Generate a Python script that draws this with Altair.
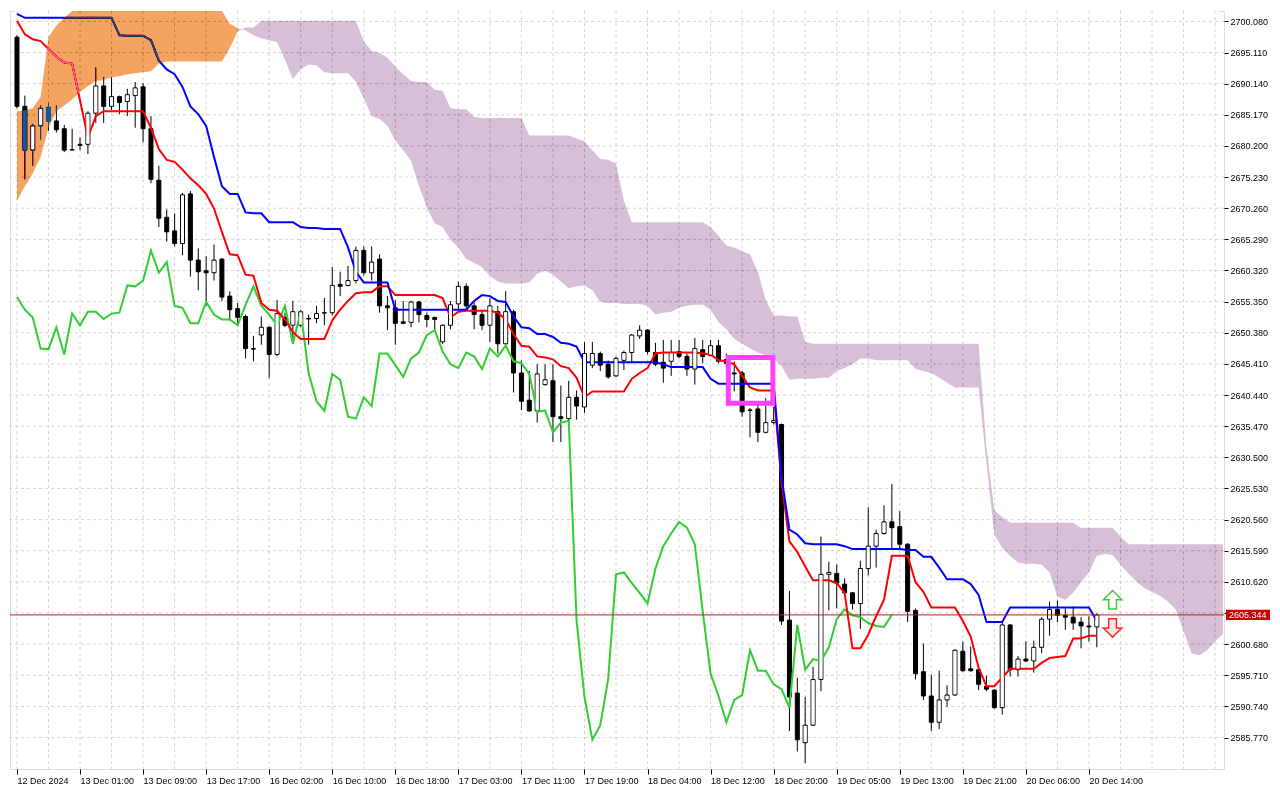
import json
import altair as alt
import pandas as pd

# ---------------- data (XAUUSD H1, Ichimoku) ----------------
opens = [
    2697.55, 2686.52, 2679.53, 2683.41, 2686.36, 2684.19, 2682.95, 2679.61, 2680.46, 2680.46,
    2685.43, 2689.78, 2686.52, 2688.07, 2687.30, 2688.23, 2689.63, 2682.95, 2674.72, 2668.81,
    2666.64, 2664.62, 2672.54, 2661.98, 2660.27, 2659.96, 2662.14, 2656.23, 2654.22, 2652.97,
    2647.85, 2650.02, 2651.26, 2646.92, 2652.82, 2651.58, 2651.58, 2652.66, 2652.66, 2653.52,
    2653.59, 2658.10, 2657.94, 2658.72, 2663.53, 2659.96, 2662.14, 2654.68, 2654.37, 2652.12,
    2652.04, 2655.30, 2653.13, 2652.82, 2648.93, 2651.58, 2654.99, 2657.79, 2654.68, 2653.28,
    2651.58, 2653.75, 2648.62, 2653.75, 2643.96, 2639.62, 2637.91, 2642.10, 2642.72, 2636.98,
    2636.67, 2640.08, 2638.53, 2645.21, 2647.07, 2645.36, 2643.50, 2645.98, 2647.23, 2649.87,
    2650.80, 2647.23, 2645.67, 2645.83, 2647.38, 2646.61, 2644.59, 2647.69, 2646.76, 2648.31,
    2646.14, 2643.96, 2643.96, 2638.06, 2638.22, 2634.49, 2636.04, 2635.73, 2604.52, 2592.87,
    2584.95, 2587.74, 2595.04, 2611.82, 2611.97, 2610.26, 2608.87, 2607.16, 2612.75, 2616.32,
    2618.34, 2620.20, 2619.43, 2616.63, 2606.07, 2596.28, 2592.40, 2588.21, 2591.78, 2592.56,
    2599.55, 2596.75, 2596.60, 2593.96, 2593.33, 2590.54, 2603.74, 2596.60, 2598.30, 2597.99,
    2600.17, 2604.67, 2606.22, 2605.29, 2604.98, 2604.20, 2603.58, 2603.43,
]
highs = [
    2697.86, 2688.23, 2683.72, 2686.67, 2686.99, 2686.67, 2683.57, 2682.95, 2681.55, 2685.74,
    2692.73, 2691.18, 2691.18, 2688.23, 2689.32, 2690.40, 2690.25, 2684.97, 2677.05, 2670.06,
    2669.44, 2672.70, 2673.01, 2663.84, 2662.60, 2664.47, 2662.29, 2657.01, 2655.15, 2653.28,
    2649.87, 2652.97, 2651.42, 2655.61, 2653.59, 2655.46, 2654.06, 2653.28, 2654.68, 2655.92,
    2660.89, 2660.12, 2661.05, 2664.16, 2664.16, 2664.16, 2662.91, 2656.23, 2655.61, 2655.46,
    2655.46, 2655.46, 2653.59, 2652.97, 2651.73, 2655.46, 2658.56, 2658.25, 2655.46, 2653.90,
    2655.92, 2654.68, 2657.01, 2654.06, 2645.98, 2644.28, 2645.36, 2645.36, 2645.36, 2641.95,
    2642.72, 2641.17, 2648.93, 2648.93, 2647.38, 2645.98, 2646.61, 2647.54, 2650.18, 2651.58,
    2650.95, 2648.78, 2649.25, 2649.25, 2649.25, 2647.07, 2649.56, 2649.25, 2649.25, 2649.25,
    2647.07, 2645.83, 2644.28, 2638.37, 2639.46, 2639.93, 2638.53, 2635.89, 2609.18, 2595.35,
    2592.25, 2597.06, 2617.87, 2613.84, 2613.37, 2611.19, 2609.02, 2613.99, 2622.53, 2618.96,
    2622.84, 2626.26, 2621.91, 2616.79, 2606.38, 2600.79, 2595.82, 2596.44, 2594.11, 2599.86,
    2601.10, 2600.32, 2597.37, 2595.66, 2593.49, 2604.05, 2603.90, 2598.77, 2601.10, 2601.25,
    2604.98, 2607.47, 2607.62, 2606.38, 2606.69, 2604.98, 2605.14, 2605.60,
]
lows = [
    2686.21, 2674.87, 2677.05, 2681.24, 2682.64, 2682.33, 2679.22, 2679.45, 2679.53, 2678.91,
    2683.88, 2683.88, 2685.90, 2685.28, 2684.97, 2683.10, 2680.77, 2674.25, 2667.26, 2664.93,
    2664.16, 2662.76, 2659.34, 2657.17, 2654.68, 2658.72, 2655.46, 2652.35, 2651.58, 2646.29,
    2645.83, 2648.47, 2643.19, 2646.61, 2651.26, 2648.93, 2651.26, 2648.47, 2651.89, 2651.58,
    2653.13, 2656.23, 2657.79, 2658.25, 2659.50, 2658.72, 2653.59, 2650.80, 2648.47, 2651.73,
    2651.26, 2652.04, 2651.26, 2650.95, 2648.62, 2650.95, 2654.06, 2654.06, 2650.95, 2650.80,
    2648.93, 2647.07, 2648.16, 2640.86, 2638.06, 2637.75, 2636.04, 2641.95, 2632.94, 2632.94,
    2636.04, 2636.51, 2637.60, 2644.74, 2644.28, 2643.03, 2643.34, 2644.43, 2645.52, 2649.40,
    2646.92, 2645.05, 2642.41, 2643.50, 2646.29, 2643.50, 2642.10, 2645.52, 2646.61, 2645.52,
    2644.90, 2641.01, 2636.98, 2633.71, 2632.94, 2634.34, 2635.73, 2603.74, 2586.81, 2583.55,
    2581.69, 2587.59, 2593.18, 2606.07, 2606.38, 2608.24, 2606.22, 2603.12, 2611.66, 2612.90,
    2618.18, 2615.85, 2615.85, 2604.20, 2595.04, 2591.78, 2586.81, 2587.12, 2590.69, 2592.40,
    2596.28, 2596.28, 2593.33, 2593.18, 2590.38, 2589.45, 2595.51, 2595.51, 2597.84, 2596.13,
    2599.24, 2602.03, 2604.20, 2602.96, 2602.96, 2600.01, 2601.10, 2600.17,
]
closes = [
    2686.52, 2679.53, 2683.41, 2686.21, 2684.19, 2682.79, 2679.53, 2679.56, 2680.31, 2685.43,
    2689.78, 2686.52, 2688.07, 2687.14, 2688.38, 2689.47, 2682.95, 2674.87, 2668.66, 2666.49,
    2664.62, 2672.39, 2661.98, 2660.12, 2659.96, 2661.98, 2656.08, 2654.06, 2652.82, 2647.85,
    2647.77, 2651.26, 2646.92, 2653.44, 2651.58, 2653.75, 2653.75, 2652.58, 2653.44, 2653.59,
    2657.94, 2657.79, 2658.72, 2663.53, 2659.96, 2661.67, 2654.68, 2654.37, 2651.89, 2651.89,
    2655.30, 2653.28, 2652.51, 2652.51, 2651.58, 2654.84, 2657.79, 2654.68, 2653.28, 2651.58,
    2654.68, 2648.62, 2653.75, 2643.96, 2639.46, 2637.91, 2643.81, 2642.88, 2636.98, 2636.67,
    2640.08, 2638.68, 2647.07, 2647.07, 2645.21, 2643.34, 2646.29, 2647.23, 2650.02, 2650.80,
    2647.38, 2645.36, 2644.74, 2647.23, 2646.61, 2644.59, 2647.85, 2646.61, 2648.31, 2645.83,
    2645.52, 2643.81, 2637.75, 2637.99, 2634.49, 2636.04, 2636.35, 2604.36, 2592.25, 2585.41,
    2587.74, 2595.04, 2611.82, 2612.13, 2610.42, 2608.87, 2607.16, 2612.75, 2616.32, 2618.34,
    2620.20, 2619.27, 2616.63, 2605.91, 2595.97, 2592.40, 2588.21, 2591.78, 2592.56, 2599.70,
    2596.44, 2596.44, 2594.27, 2593.49, 2590.54, 2603.74, 2596.60, 2598.30, 2597.99, 2600.17,
    2604.67, 2606.22, 2605.29, 2604.98, 2604.05, 2603.58, 2603.43, 2605.344,
]
tenkan = [
    2700.19, 2698.01, 2697.24, 2696.93, 2695.68, 2694.44, 2693.51, 2693.35, 2687.45, 2681.55,
    2684.97, 2685.74, 2685.74, 2685.74, 2685.74, 2685.74, 2685.74, 2683.10, 2679.69, 2677.98,
    2677.67, 2676.42, 2675.03, 2673.94, 2672.54, 2670.21, 2666.49, 2662.91, 2662.76, 2659.65,
    2659.50, 2655.15, 2654.06, 2653.90, 2652.51, 2650.49, 2649.40, 2649.40, 2649.40, 2649.40,
    2652.35, 2654.06, 2655.46, 2656.70, 2656.86, 2656.86, 2657.79, 2657.79, 2656.39, 2656.39,
    2656.39, 2656.39, 2656.39, 2656.39, 2655.92, 2652.82, 2653.75, 2653.90, 2653.90, 2653.90,
    2653.90, 2653.59, 2652.51, 2650.18, 2648.31, 2648.16, 2646.61, 2646.45, 2646.14, 2645.05,
    2644.74, 2643.19, 2640.08, 2641.01, 2641.01, 2641.01, 2641.01, 2641.01, 2643.03, 2643.96,
    2644.74, 2647.07, 2647.23, 2647.23, 2647.23, 2647.23, 2647.23, 2647.07, 2646.92, 2645.98,
    2645.83, 2645.36, 2643.50, 2641.64, 2641.17, 2641.17, 2641.17, 2626.57, 2617.10, 2615.39,
    2613.06, 2610.88, 2610.88, 2610.88, 2610.42, 2608.87, 2600.01, 2600.01, 2602.19, 2605.14,
    2607.78, 2614.77, 2614.77, 2614.77, 2610.57, 2609.02, 2606.54, 2606.54, 2606.54, 2606.54,
    2604.36, 2601.88, 2596.91, 2593.96, 2593.96, 2595.35, 2596.75, 2596.75, 2596.75, 2596.75,
    2597.68, 2598.46, 2598.61, 2598.77, 2601.57, 2601.57, 2602.03, 2602.03,
]
kijun = [
    2701.27, 2700.65, 2700.65, 2700.65, 2700.65, 2700.65, 2700.65, 2700.65, 2700.65, 2700.65,
    2700.65, 2700.65, 2700.65, 2697.86, 2697.78, 2697.78, 2697.78, 2697.08, 2693.82, 2692.42,
    2691.65, 2689.63, 2686.52, 2685.28, 2683.41, 2678.44, 2673.78, 2672.54, 2672.54, 2669.59,
    2669.44, 2669.44, 2668.04, 2668.04, 2668.04, 2668.04, 2667.26, 2667.11, 2667.11, 2666.95,
    2666.95, 2666.95, 2664.00, 2660.12, 2658.41, 2658.41, 2658.41, 2658.41, 2654.06, 2654.06,
    2654.06, 2654.06, 2654.06, 2654.06, 2654.06, 2654.06, 2654.06, 2654.06, 2655.46, 2656.39,
    2656.23, 2655.46, 2655.30, 2652.97, 2651.26, 2651.11, 2650.18, 2650.18, 2649.71, 2648.78,
    2648.62, 2648.16, 2645.67, 2645.67, 2645.67, 2645.67, 2645.67, 2645.67, 2645.67, 2645.67,
    2645.67, 2645.67, 2645.36, 2644.90, 2644.90, 2644.90, 2644.90, 2644.90, 2643.03, 2642.26,
    2642.26, 2642.26, 2642.26, 2642.26, 2642.26, 2642.26, 2642.26, 2627.35, 2618.96, 2618.18,
    2616.79, 2616.63, 2616.63, 2616.63, 2616.63, 2616.32, 2615.85, 2615.85, 2615.85, 2615.85,
    2615.85, 2615.85, 2615.85, 2615.70, 2615.70, 2614.61, 2614.61, 2612.90, 2611.04, 2611.04,
    2611.04, 2610.26, 2608.55, 2604.20, 2604.20, 2604.20, 2606.54, 2606.54, 2606.54, 2606.54,
    2606.54, 2606.54, 2606.54, 2606.54, 2606.54, 2606.54, 2606.54, 2604.36,
]
senkou_a = [
    2685.74, 2685.90, 2686.21, 2688.07, 2697.55, 2699.41, 2700.65, 2701.74, 2701.74, 2701.74,
    2701.74, 2701.74, 2701.74, 2701.74, 2701.74, 2701.74, 2701.74, 2701.74, 2701.74, 2701.74,
    2701.74, 2701.74, 2701.74, 2701.74, 2701.74, 2701.74, 2701.74, 2699.72, 2699.02, 2698.63,
    2697.86, 2697.39, 2697.08, 2696.77, 2693.97, 2690.87, 2692.42, 2693.20, 2693.04, 2691.96,
    2691.80, 2691.80, 2691.80, 2690.40, 2687.76, 2684.97, 2684.50, 2683.41, 2681.08, 2679.53,
    2677.82, 2673.78, 2670.37, 2667.88, 2667.26, 2665.24, 2664.00, 2662.14, 2661.52, 2660.89,
    2659.50, 2658.56, 2658.25, 2658.25, 2658.25, 2658.41, 2659.81, 2660.27, 2659.65, 2658.56,
    2657.48, 2657.79, 2657.94, 2657.17, 2655.30, 2655.15, 2655.15, 2654.99, 2654.99, 2654.99,
    2654.68, 2653.28, 2653.59, 2653.75, 2654.37, 2654.68, 2654.84, 2654.84, 2654.06, 2652.04,
    2650.95, 2649.40, 2648.62, 2647.85, 2647.23, 2646.76, 2646.29, 2645.05, 2642.88, 2643.03,
    2643.03, 2643.03, 2643.19, 2643.19, 2644.28, 2644.74, 2645.36, 2646.29, 2646.29, 2645.98,
    2645.98, 2645.98, 2645.98, 2645.98, 2644.59, 2644.28, 2643.96, 2643.19, 2642.41, 2641.64,
    2641.64, 2641.64, 2641.64, 2629.52, 2618.18, 2616.01, 2614.77, 2613.68, 2613.52, 2613.52,
    2613.37, 2612.13, 2608.24, 2607.78, 2608.87, 2610.57, 2612.13, 2614.77, 2615.08, 2614.92,
    2613.37, 2611.97, 2610.73, 2609.64, 2609.02, 2608.40, 2607.47, 2606.22, 2602.81, 2599.24,
    2598.92, 2599.70, 2601.10, 2602.34,
]
senkou_b = [
    2671.46, 2673.78, 2675.80, 2678.44, 2683.10, 2685.74, 2686.67, 2687.61, 2688.85, 2689.78,
    2690.56, 2690.71, 2691.18, 2691.33, 2691.65, 2691.80, 2691.96, 2692.11, 2693.35, 2693.66,
    2693.66, 2693.66, 2693.66, 2693.66, 2693.66, 2693.66, 2693.66, 2695.84, 2698.48, 2699.10,
    2699.10, 2700.19, 2700.19, 2700.19, 2700.19, 2700.19, 2700.19, 2700.19, 2700.19, 2700.19,
    2700.19, 2700.19, 2700.19, 2700.19, 2696.93, 2695.37, 2695.06, 2694.29, 2692.89, 2691.65,
    2690.56, 2690.40, 2690.40, 2689.16, 2689.00, 2686.21, 2686.05, 2686.05, 2684.81, 2684.66,
    2684.66, 2684.66, 2684.66, 2684.66, 2684.66, 2681.86, 2681.86, 2681.86, 2681.86, 2681.86,
    2681.86, 2681.39, 2680.93, 2679.53, 2678.13, 2677.98, 2677.36, 2671.46, 2668.04, 2668.04,
    2668.04, 2668.04, 2668.04, 2668.04, 2668.04, 2668.04, 2668.04, 2668.04, 2667.26, 2665.86,
    2664.31, 2664.00, 2663.38, 2662.91, 2660.12, 2655.61, 2653.13, 2653.13, 2652.97, 2652.97,
    2648.93, 2648.62, 2648.62, 2648.62, 2648.62, 2648.62, 2648.62, 2648.62, 2648.62, 2648.62,
    2648.62, 2648.62, 2648.62, 2648.62, 2648.62, 2648.62, 2648.62, 2648.62, 2648.62, 2648.62,
    2648.62, 2648.62, 2648.62, 2632.16, 2622.07, 2620.98, 2620.05, 2620.05, 2620.05, 2620.05,
    2620.05, 2620.05, 2620.05, 2620.05, 2620.05, 2619.27, 2619.27, 2619.27, 2619.27, 2619.27,
    2617.87, 2616.63, 2616.63, 2616.63, 2616.63, 2616.63, 2616.63, 2616.63, 2616.63, 2616.63,
    2616.63, 2616.63, 2616.63, 2616.63,
]
time_labels = [
    "12 Dec 2024", "13 Dec 01:00", "13 Dec 09:00", "13 Dec 17:00", "16 Dec 02:00",
    "16 Dec 10:00", "16 Dec 18:00", "17 Dec 03:00", "17 Dec 11:00", "17 Dec 19:00",
    "18 Dec 04:00", "18 Dec 12:00", "18 Dec 20:00", "19 Dec 05:00", "19 Dec 13:00",
    "19 Dec 21:00", "20 Dec 06:00", "20 Dec 14:00",
]
label_bars = [0, 8, 16, 24, 32, 40, 48, 56, 64, 72, 80, 88, 96, 104, 112, 120, 128, 136]
grid_bars = [0, 4, 8, 12, 16, 20, 24, 28, 32, 36, 40, 44, 48, 52, 56, 60, 64, 68, 72, 76,
             80, 84, 88, 92, 96, 100, 104, 108, 112, 116, 120, 124, 128, 132, 136, 140, 144,
             148, 152]
price_ticks = [
    2700.08, 2695.11, 2690.14, 2685.17, 2680.20, 2675.23, 2670.26, 2665.29, 2660.32,
    2655.35, 2650.38, 2645.41, 2640.44, 2635.47, 2630.50, 2625.53, 2620.56, 2615.59,
    2610.62, 2605.65, 2600.68, 2595.71, 2590.74, 2585.77,
]
current_price = 2605.344
box_bars = [90.25, 95.9]
box_prices = [2646.45, 2639.15]
arrow_bars = [139, 139]
arrow_prices = [2607.78, 2603.27]

# ---------------- layout ----------------
W, H = 1214, 758
XDOM = [-0.25, 152.5]
YDOM = [2580.75, 2701.74]
FONT = "Liberation Sans"
GRID = "#d4d4d4"

xs = alt.Scale(domain=XDOM, nice=False, zero=False)
ys = alt.Scale(domain=YDOM, nice=False, zero=False)

x_axis = alt.Axis(
    values=label_bars,
    labelExpr=json.dumps(time_labels) + "[round(datum.value / 8)]",
    grid=False, domain=False, ticks=True, tickColor="black", tickSize=5, tickWidth=1,
    labelAlign="left", labelBaseline="top", labelFont=FONT, labelFontSize=9,
    labelColor="black", labelPadding=2, labelOverlap=False, labelFlush=False, title=None,
)
y_axis = alt.Axis(
    orient="right", values=price_ticks,
    labelExpr="abs(datum.value - 2605.65) < 0.001 ? '' : format(datum.value, '.3f')",
    grid=False, domain=False,
    tickColor="black", tickSize=4, tickWidth=1, labelFont=FONT, labelFontSize=9,
    labelColor="black", labelPadding=2, labelOverlap=False, labelFlush=False, title=None,
)


def X(f):
    return alt.X(f, type="quantitative", scale=xs, axis=x_axis)


def Y(f):
    return alt.Y(f, type="quantitative", scale=ys, axis=y_axis)


n = len(closes)
cdf = pd.DataFrame({"k": list(range(n)), "o": opens, "h": highs, "l": lows, "c": closes})
bull = cdf[cdf.c >= cdf.o]
bear = cdf[cdf.c < cdf.o]
bull_inner = bull[(bull.c - bull.o) > 0.5]

ten_df = pd.DataFrame({"k": list(range(len(tenkan))), "v": tenkan})
kij_df = pd.DataFrame({"k": list(range(len(kijun))), "v": kijun})
# Chikou span = close plotted 26 bars back
chikou = closes[26:]
chi_df = pd.DataFrame({"k": list(range(len(chikou))), "v": chikou})
cloud = pd.DataFrame({"k": list(range(len(senkou_a))), "a": senkou_a, "b": senkou_b})
cloud_up = cloud[cloud.k <= 28]
cloud_dn = cloud[cloud.k >= 28]

# white plot backdrop (so the cloud's difference blending has something to blend with)
backdrop = alt.Chart(pd.DataFrame({"k1": [XDOM[0]], "k2": [XDOM[1]],
                                   "p1": [YDOM[0]], "p2": [YDOM[1]]})).mark_rect(
    color="white", opacity=1).encode(x=X("k1"), x2="k2", y=Y("p1"), y2="p2")

vgrid = alt.Chart(pd.DataFrame({"k": grid_bars})).mark_rule(
    color=GRID, strokeDash=[3, 3], strokeWidth=1).encode(x=X("k"))
hgrid = alt.Chart(pd.DataFrame({"p": price_ticks})).mark_rule(
    color=GRID, strokeDash=[3, 3], strokeWidth=1).encode(y=Y("p"))

wicks = alt.Chart(cdf).mark_rule(color="black", strokeWidth=1).encode(
    x=X("k"), y=Y("l"), y2="h")
bear_b = alt.Chart(bear).mark_bar(width=4, fill="black", stroke="black", strokeWidth=1).encode(
    x=X("k"), y=Y("o"), y2="c")
bull_b = alt.Chart(bull).mark_bar(width=4, fill="white", stroke="black", strokeWidth=1).encode(
    x=X("k"), y=Y("c"), y2="o")

l_ten = alt.Chart(ten_df).mark_line(color="#ff0000", strokeWidth=2).encode(x=X("k"), y=Y("v"))
l_kij = alt.Chart(kij_df).mark_line(color="#0000ff", strokeWidth=2).encode(x=X("k"), y=Y("v"))
l_chi = alt.Chart(chi_df).mark_line(color="#32cd32", strokeWidth=2).encode(x=X("k"), y=Y("v"))

# cloud drawn with 'difference' blending (like MT5's XOR fill): sandybrown / thistle on white
a_up = alt.Chart(cloud_up).mark_area(color="#0b5b9f", blend="difference", opacity=1).encode(
    x=X("k"), y=Y("a"), y2="b")
a_dn = alt.Chart(cloud_dn).mark_area(color="#274027", blend="difference", opacity=1).encode(
    x=X("k"), y=Y("a"), y2="b")

bull_fill = alt.Chart(bull_inner).mark_bar(width=3, fill="white", yOffset=1, y2Offset=-1).encode(
    x=X("k"), y=Y("c"), y2="o")

box = alt.Chart(pd.DataFrame({"k1": [box_bars[0]], "k2": [box_bars[1]],
                              "p1": [box_prices[0]], "p2": [box_prices[1]]})).mark_rect(
    fillOpacity=0, stroke="#ff40ff", strokeWidth=5
).encode(x=X("k1"), x2="k2", y=Y("p1"), y2="p2")

pline = alt.Chart(pd.DataFrame({"p": [current_price]})).mark_rule(
    color="#b22222", strokeWidth=1).encode(y=Y("p"))

UP = "M0,-1L1,0L0.42,0L0.42,1L-0.42,1L-0.42,0L-1,0Z"
DN = "M0,1L1,0L0.42,0L0.42,-1L-0.42,-1L-0.42,0L-1,0Z"
arr_up = alt.Chart(pd.DataFrame({"k": [arrow_bars[0]], "p": [arrow_prices[0]]})).mark_point(
    shape=UP, size=340, filled=True, fill="white", stroke="#3cc83c", strokeWidth=1.5,
    opacity=1, fillOpacity=1, strokeOpacity=1
).encode(x=X("k"), y=Y("p"))
arr_dn = alt.Chart(pd.DataFrame({"k": [arrow_bars[1]], "p": [arrow_prices[1]]})).mark_point(
    shape=DN, size=340, filled=True, fill="#ffe4e4", stroke="#ff2a2a", strokeWidth=1.5,
    opacity=1, fillOpacity=1, strokeOpacity=1
).encode(x=X("k"), y=Y("p"))

RECT = "M-1,-0.23L1,-0.23L1,0.23L-1,0.23Z"
plabel_bg = alt.Chart(pd.DataFrame({"p": [current_price]})).mark_point(
    shape=RECT, size=1936, filled=True, color="#cc0000", opacity=1
).encode(x=alt.value(W + 24), y=Y("p"))
plabel_tx = alt.Chart(pd.DataFrame({"p": [current_price]})).mark_text(
    align="left", baseline="middle", color="white", font=FONT, fontSize=9
).encode(x=alt.value(W + 5), y=Y("p"), text=alt.Text("p:Q", format=".3f"))

chart = alt.layer(
    backdrop, vgrid, hgrid, wicks, bear_b, bull_b, l_chi, l_ten, l_kij, a_up, a_dn, bull_fill,
    box, pline, arr_up, arr_dn, plabel_bg, plabel_tx
).properties(
    width=W, height=H, padding={"left": 1, "top": 1, "right": 0, "bottom": 0}
).configure_view(stroke="black", strokeWidth=1).configure(background="white")

chart.save("out.html", embed_options={"renderer": "svg", "actions": False})
